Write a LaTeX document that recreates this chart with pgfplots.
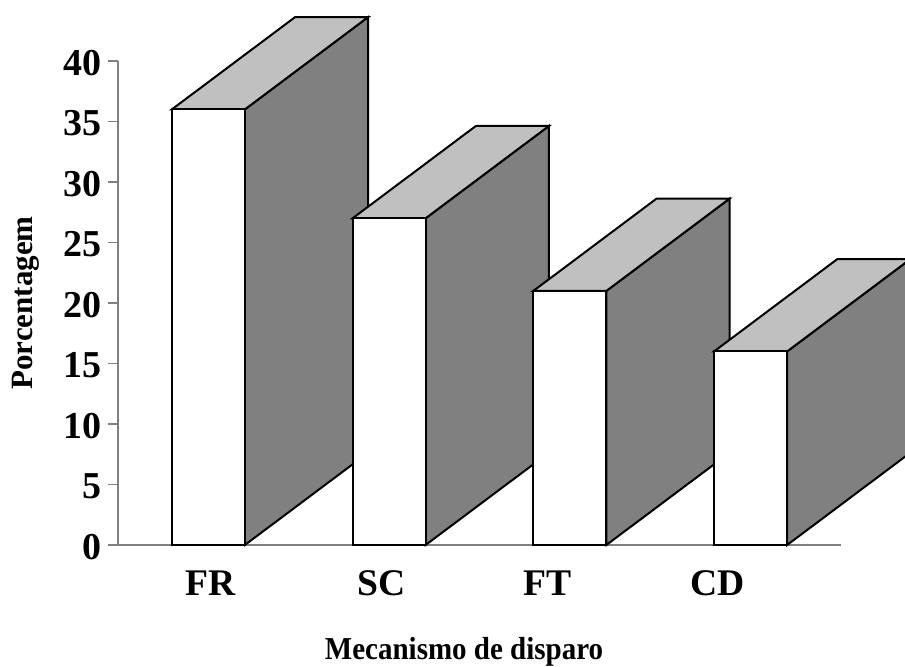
\documentclass[border=0pt]{standalone}
\usepackage{pgfplots}
\pgfplotsset{compat=1.18}
\usepackage{fontspec}
\setmainfont{Liberation Serif}
\definecolor{sidegray}{HTML}{808080}
\definecolor{topgray}{HTML}{C0C0C0}
\definecolor{axgray}{HTML}{808080}
\begin{document}
\begin{tikzpicture}
\begin{axis}[
 name=ax,
 scale only axis, width=361.5pt, height=242pt,
 xmin=-0.5, xmax=3.5, ymin=0, ymax=40,
 clip=false,
 axis x line*=bottom, axis y line*=left,
 axis line style={draw=axgray, line width=0.6pt},
 ytick={0,5,...,40},
 tick align=outside, major tick length=4.75pt,
 ytick style={draw=axgray, line width=0.6pt},
 xtick={0.014,0.958,1.879,2.819},
 xticklabels={FR,SC,FT,CD},
 xtick style={draw=none},
 /pgf/number format/assume math mode=true,
 yticklabel style={font=\fontsize{19}{19}\selectfont\bfseries, anchor=east, inner sep=0pt, xshift=-3.25pt, yshift=-1pt},
 xticklabel style={font=\fontsize{18.8}{18.8}\selectfont\bfseries, anchor=north, inner sep=0pt, text height=12.4pt, text depth=0pt, yshift=-7.75pt},
 ylabel={Porcentagem},
 ylabel style={font=\fontsize{15.5}{15.5}\selectfont\bfseries, at={(axis description cs:-0.1176,0.5)}, anchor=base},
 xlabel={Mecanismo de disparo},
 xlabel style={font=\fontsize{14.5}{14.5}\selectfont\bfseries, at={(axis description cs:0.4786,-0.2376)}, anchor=base, yscale=1.1},
]
% FR (36): side and top faces
\addplot[draw=black, line width=1pt, fill=sidegray] coordinates {(0.202,0) (0.884,7.63) (0.884,43.63) (0.202,36)} --cycle;
\addplot[draw=black, line width=1pt, fill=topgray] coordinates {(-0.202,36) (0.202,36) (0.884,43.63) (0.480,43.63)} --cycle;
% SC (27)
\addplot[draw=black, line width=1pt, fill=sidegray] coordinates {(1.202,0) (1.884,7.63) (1.884,34.63) (1.202,27)} --cycle;
\addplot[draw=black, line width=1pt, fill=topgray] coordinates {(0.798,27) (1.202,27) (1.884,34.63) (1.480,34.63)} --cycle;
% FT (21)
\addplot[draw=black, line width=1pt, fill=sidegray] coordinates {(2.202,0) (2.884,7.63) (2.884,28.63) (2.202,21)} --cycle;
\addplot[draw=black, line width=1pt, fill=topgray] coordinates {(1.798,21) (2.202,21) (2.884,28.63) (2.480,28.63)} --cycle;
% CD (16)
\addplot[draw=black, line width=1pt, fill=sidegray] coordinates {(3.202,0) (3.884,7.63) (3.884,23.63) (3.202,16)} --cycle;
\addplot[draw=black, line width=1pt, fill=topgray] coordinates {(2.798,16) (3.202,16) (3.884,23.63) (3.480,23.63)} --cycle;
% front faces
\addplot[ybar, bar width=0.404, bar shift=0pt, draw=black, line width=1pt, fill=white] coordinates {(0,36) (1,27) (2,21) (3,16)};
\end{axis}
\pgfresetboundingbox
\path[use as bounding box] ([shift={(-59pt,-61pt)}]ax.south west) rectangle ([shift={(393.5pt,272.5pt)}]ax.south west);
\end{tikzpicture}
\end{document}
